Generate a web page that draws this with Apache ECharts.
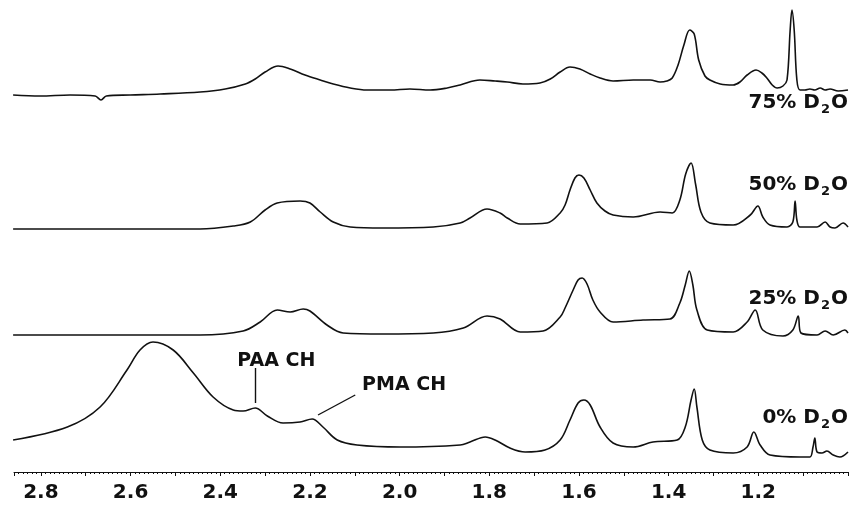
<!DOCTYPE html>
<html>
<head>
<meta charset="utf-8">
<script src="https://cdn.jsdelivr.net/npm/echarts@6/dist/echarts.min.js"></script>
<style>
  html, body { margin: 0; padding: 0; background: #fff; }
  #chart { width: 853px; height: 506px; }
</style>
</head>
<body>
<div id="chart"></div>
<script>
  // [chemical shift (ppm), intensity]
  var trace75 = [[2.862,5],[2.802,4],[2.735,5],[2.679,4],[2.666,0],[2.654,4],[2.601,5],[2.534,6],[2.445,8],[2.389,11],[2.344,16],[2.322,21],[2.300,28],[2.271,34],[2.244,31],[2.211,25],[2.177,20],[2.148,16],[2.110,12],[2.073,10],[2.021,10],[1.977,11],[1.932,10],[1.894,12],[1.865,15],[1.821,20],[1.787,19],[1.760,18],[1.725,16],[1.687,17],[1.664,21],[1.642,28],[1.620,33],[1.598,31],[1.575,26],[1.553,22],[1.524,19],[1.479,20],[1.441,20],[1.419,18],[1.404,19],[1.392,22],[1.379,35],[1.366,55],[1.353,70],[1.343,66],[1.333,40],[1.319,24],[1.308,20],[1.285,16],[1.256,15],[1.241,18],[1.225,25],[1.205,30],[1.192,27],[1.181,22],[1.169,15],[1.158,12],[1.145,14],[1.136,20],[1.129,70],[1.125,90],[1.120,70],[1.114,20],[1.107,10],[1.096,10],[1.085,11],[1.074,10],[1.062,12],[1.051,10],[1.040,11],[1.022,9],[1.000,10]];
  var trace50 = [[2.862,3],[2.668,3],[2.445,3],[2.371,6],[2.333,10],[2.300,22],[2.273,29],[2.222,31],[2.200,29],[2.177,20],[2.148,10],[2.110,5],[2.037,4],[1.925,5],[1.865,9],[1.843,14],[1.805,23],[1.776,19],[1.760,14],[1.731,8],[1.671,9],[1.642,19],[1.631,27],[1.620,42],[1.609,54],[1.600,57],[1.589,54],[1.575,42],[1.560,29],[1.542,21],[1.524,17],[1.479,15],[1.419,20],[1.392,19],[1.375,32],[1.362,58],[1.350,69],[1.340,48],[1.328,20],[1.308,9],[1.256,7],[1.218,17],[1.201,26],[1.190,15],[1.174,7],[1.136,5],[1.123,10],[1.118,31],[1.114,12],[1.107,5],[1.069,5],[1.051,10],[1.040,5],[1.029,4],[1.011,9],[1.000,5]];
  var trace25 = [[2.862,1],[2.668,1],[2.445,1],[2.349,5],[2.311,14],[2.273,26],[2.244,24],[2.215,27],[2.200,25],[2.162,11],[2.126,3],[2.037,2],[1.925,3],[1.858,8],[1.805,20],[1.776,17],[1.731,4],[1.680,5],[1.642,19],[1.631,28],[1.613,46],[1.602,56],[1.593,58],[1.582,52],[1.569,36],[1.553,24],[1.524,14],[1.457,16],[1.397,17],[1.375,33],[1.363,51],[1.354,65],[1.346,51],[1.337,26],[1.314,6],[1.256,4],[1.225,14],[1.207,26],[1.190,6],[1.145,0],[1.123,6],[1.111,20],[1.105,3],[1.069,1],[1.051,5],[1.033,1],[1.007,6],[1.000,3]];
  var trace0 = [[2.862,12],[2.741,25],[2.668,45],[2.608,82],[2.579,102],[2.550,110],[2.505,102],[2.460,79],[2.416,55],[2.371,42],[2.349,41],[2.322,44],[2.295,36],[2.260,29],[2.222,30],[2.195,33],[2.171,25],[2.139,12],[2.095,7],[1.999,5],[1.865,7],[1.843,10],[1.809,15],[1.787,12],[1.754,4],[1.720,0],[1.676,2],[1.642,12],[1.620,32],[1.602,49],[1.589,52],[1.575,47],[1.553,25],[1.524,9],[1.479,5],[1.435,10],[1.381,12],[1.363,25],[1.350,52],[1.343,63],[1.337,45],[1.325,12],[1.308,2],[1.256,-1],[1.225,5],[1.210,20],[1.196,7],[1.174,-3],[1.107,-5],[1.085,-5],[1.078,5],[1.074,14],[1.069,0],[1.058,-1],[1.047,1],[1.033,-3],[1.018,-5],[1.000,0]];

  var traceNames = ['75%', '50%', '25%', '0%'];
  var tickLabels = ['2.8', '2.6', '2.4', '2.2', '2.0', '1.8', '1.6', '1.4', '1.2'];

  // peak callouts on the 0% trace
  var paaLine = [[2.322, 49], [2.322, 84]];
  var pmaLine = [[2.182, 37], [2.099, 57]];
  var paaText = [2.275, 91];
  var pmaText = [1.990, 67];

  var traces = [trace75, trace50, trace25, trace0];
  var FONT = 'DejaVu Sans';
  var INK = '#111';

  // one strip per trace, stacked top to bottom
  var strips = [
    { top: 5, height: 100, lo: -5, hi: 95, labelY: 104 },
    { top: 157, height: 80, lo: -5, hi: 75, labelY: 186 },
    { top: 266, height: 75, lo: -5, hi: 70, labelY: 300 },
    { top: 337, height: 125, lo: -10, hi: 115, labelY: 419 }
  ];

  var chart = echarts.init(document.getElementById('chart'));

  var grids = [], xAxes = [], yAxes = [], series = [], graphics = [];
  strips.forEach(function (s, i) {
    var last = i === strips.length - 1;
    grids.push({ left: 14, right: 5, top: s.top, height: s.height, outerBoundsMode: 'none' });
    xAxes.push({
      type: 'value', gridIndex: i, inverse: true,
      min: 1.0, max: 2.86, interval: 0.1,
      show: last, offset: 10,
      axisLine: { show: true, onZero: false, lineStyle: { color: INK, width: 1 } },
      axisTick: { show: true, length: 4, lineStyle: { color: INK } },
      minorTick: { show: true, splitNumber: 10, length: 2, lineStyle: { color: INK } },
      splitLine: { show: false },
      axisLabel: {
        margin: 11, color: INK, fontFamily: FONT, fontWeight: 'bold', fontSize: 20,
        formatter: function (v) {
          var t = v.toFixed(1);
          return tickLabels.indexOf(t) >= 0 ? t : '';
        }
      }
    });
    yAxes.push({ type: 'value', gridIndex: i, show: false, min: s.lo, max: s.hi, splitLine: { show: false } });

    var ser = {
      type: 'line', xAxisIndex: i, yAxisIndex: i,
      data: traces[i], showSymbol: false, smooth: 0.35,
      lineStyle: { color: INK, width: 1.6 },
      animation: false
    };
    if (last) {
      ser.markLine = {
        silent: true, symbol: ['none', 'none'], animation: false,
        lineStyle: { color: INK, width: 1.4, type: 'solid' },
        label: { show: false },
        data: [
          [{ coord: paaLine[0] }, { coord: paaLine[1] }],
          [{ coord: pmaLine[0] }, { coord: pmaLine[1] }]
        ]
      };
      ser.markPoint = {
        silent: true, animation: false, symbol: 'circle', symbolSize: 1,
        itemStyle: { color: 'rgba(0,0,0,0)' },
        label: {
          show: true, position: 'inside', formatter: '{b}',
          color: INK, fontFamily: FONT, fontWeight: 'bold', fontSize: 19
        },
        data: [
          { name: 'PAA CH', coord: paaText },
          { name: 'PMA CH', coord: pmaText }
        ]
      };
    }
    series.push(ser);

    graphics.push({
      type: 'text', x: 848, y: s.labelY,
      style: {
        text: '{a|' + traceNames[i] + ' D}{s|2}{a|O}',
        align: 'right', verticalAlign: 'middle', fill: INK,
        rich: {
          a: { fontFamily: FONT, fontWeight: 'bold', fontSize: 20, lineHeight: 22, verticalAlign: 'top', fill: INK },
          s: { fontFamily: FONT, fontWeight: 'bold', fontSize: 13, lineHeight: 13, padding: [10, 1, 0, 1], verticalAlign: 'top', fill: INK }
        }
      }
    });
  });

  chart.setOption({
    animation: false,
    backgroundColor: '#fff',
    grid: grids,
    xAxis: xAxes,
    yAxis: yAxes,
    series: series,
    graphic: graphics
  });
</script>
</body>
</html>
